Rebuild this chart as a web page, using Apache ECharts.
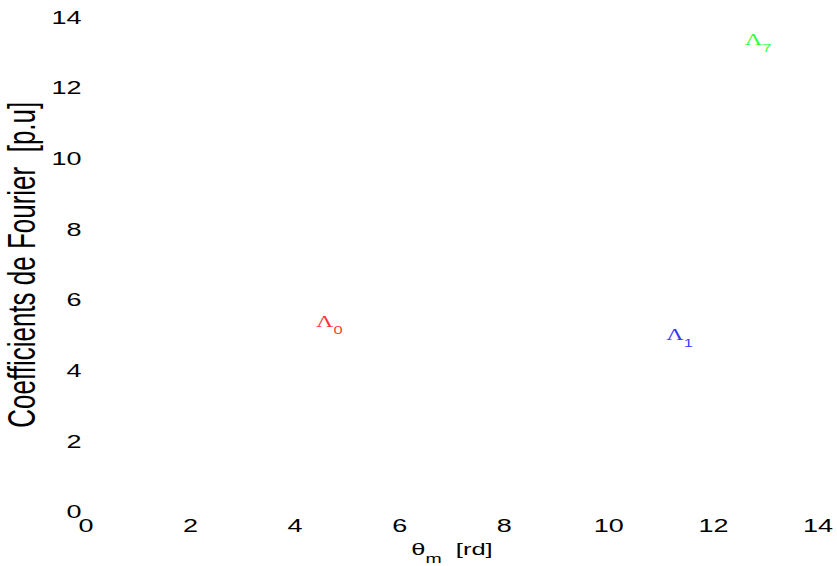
<!DOCTYPE html>
<html>
<head>
<meta charset="utf-8">
<script src="https://cdn.jsdelivr.net/npm/echarts@6/dist/echarts.min.js"></script>
<style>
  html, body { margin: 0; padding: 0; background: #fff; overflow: hidden; }
  /* the original figure is stretched sideways, so the chart is drawn narrow and widened */
  #chart { width: 558px; height: 566px; transform: scaleX(1.5); transform-origin: 0 0; }
</style>
</head>
<body>
<div id="chart"></div>
<script>
// Fourier coefficient labels: index, theta_m [rd], coefficient [p.u]
const lambdaIndex = ['0', '1', '7']
const lambdaTheta = [4.4, 11.1, 12.6]
const lambdaCoef = [5.3, 4.95, 13.3]

const lambdaColors = ['#ff0000', '#0000ff', '#00ff00']
const font = 'Liberation Sans, Arial, sans-serif'

const points = lambdaIndex.map((k, i) => ({
  value: [lambdaTheta[i], lambdaCoef[i]],
  label: { color: lambdaColors[i] }
}))

const option = {
  animation: false,
  grid: { left: 57.3, right: 12.7, top: 17.5, bottom: 54, containLabel: false, outerBoundsMode: 'none' },
  xAxis: {
    type: 'value',
    min: 0,
    max: 14,
    interval: 2,
    axisLine: { show: false },
    axisTick: { show: false },
    splitLine: { show: false },
    axisLabel: { color: '#000', fontSize: 18, fontFamily: font, margin: 5 },
    name: '{t|θ}{s|m}{r|  [rd]}',
    nameLocation: 'middle',
    nameGap: 29,
    nameMoveOverlap: false,
    nameTextStyle: {
      color: '#000',
      fontFamily: font,
      rich: {
        t: { fontSize: 17, fontFamily: font, lineHeight: 24, verticalAlign: 'top' },
        s: { fontSize: 13, fontFamily: font, lineHeight: 24, verticalAlign: 'bottom' },
        r: { fontSize: 17, fontFamily: font, lineHeight: 24, verticalAlign: 'top' }
      }
    }
  },
  yAxis: {
    type: 'value',
    min: 0,
    max: 14,
    interval: 2,
    axisLine: { show: false },
    axisTick: { show: false },
    splitLine: { show: false },
    axisLabel: { color: '#000', fontSize: 18, fontFamily: font, margin: 3 },
    name: 'Coefficients de Fourier  [p.u]',
    nameLocation: 'middle',
    nameGap: 30,
    nameMoveOverlap: false,
    nameTextStyle: { color: '#000', fontSize: 26, fontFamily: font }
  },
  series: [
    {
      type: 'scatter',
      symbolSize: 0,
      silent: true,
      data: points,
      label: {
        show: true,
        position: 'right',
        distance: 0,
        formatter: p => '{g|Λ}{s|' + lambdaIndex[p.dataIndex] + '}',
        rich: {
          g: { fontSize: 16, fontFamily: 'Liberation Serif, Times New Roman, serif', lineHeight: 22, verticalAlign: 'top' },
          s: { fontSize: 11, fontFamily: font, lineHeight: 22, verticalAlign: 'bottom' }
        }
      }
    }
  ]
}

const chart = echarts.init(document.getElementById('chart'), null, { renderer: 'svg' })
chart.setOption(option)
</script>
</body>
</html>
